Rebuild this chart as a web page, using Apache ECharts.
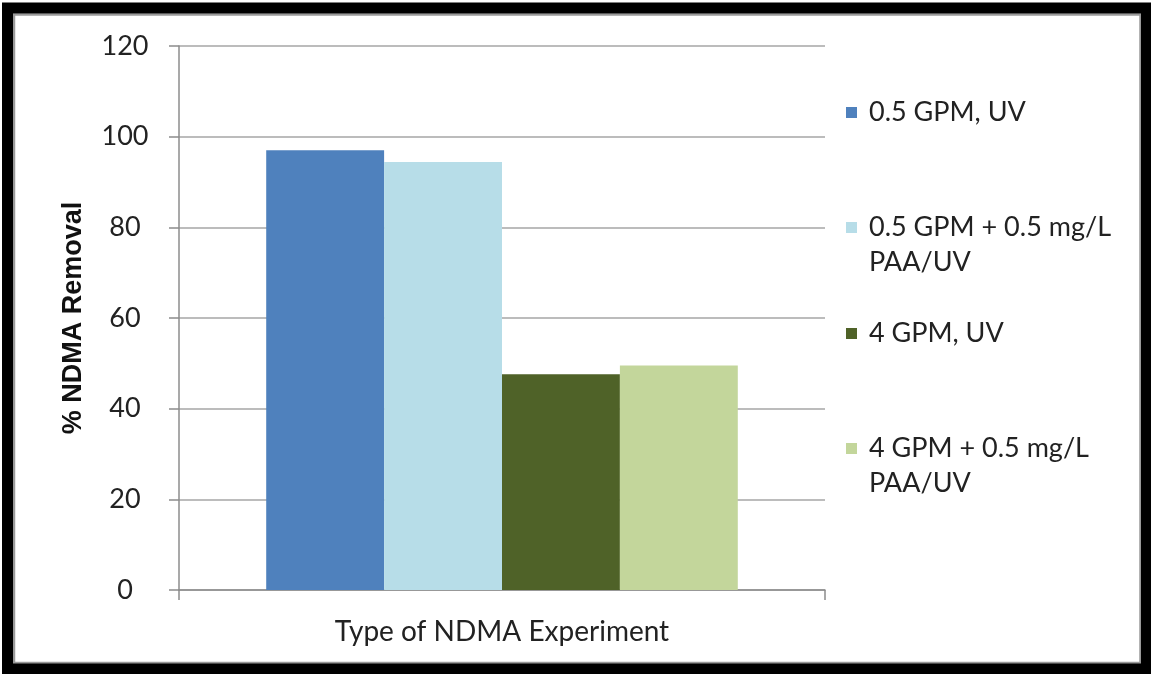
<!DOCTYPE html>
<html>
<head>
<meta charset="utf-8">
<title>% NDMA Removal</title>
<script src="https://cdn.jsdelivr.net/npm/echarts@6/dist/echarts.min.js"></script>
<style>
  html, body { margin: 0; padding: 0; background: #ffffff; }
  #chart { width: 1151px; height: 674px; }
</style>
</head>
<body>
<div id="chart"></div>
<script>
// Category and series data
const categories = ['Type of NDMA Experiment'];
const seriesNames = [
  '0.5 GPM, UV',
  '0.5 GPM + 0.5 mg/L\nPAA/UV',
  '4 GPM, UV',
  '4 GPM + 0.5 mg/L\nPAA/UV'
];
const removal_05gpm_uv = [97];
const removal_05gpm_paa_uv = [94.4];
const removal_4gpm_uv = [47.6];
const removal_4gpm_paa_uv = [49.5];
const yTicks = [0, 20, 40, 60, 80, 100, 120];

const seriesValues = [removal_05gpm_uv, removal_05gpm_paa_uv, removal_4gpm_uv, removal_4gpm_paa_uv];
const colors = ['#4f81bd', '#b7dde8', '#4f6228', '#c3d69b'];
const legendTops = [95, 175, 316, 396];

const labelFont = 'Lato, "Open Sans", sans-serif';
const textColor = '#222222';

const chart = echarts.init(document.getElementById('chart'), null, { renderer: 'canvas' });

chart.setOption({
  animation: false,
  backgroundColor: '#ffffff',
  grid: { left: 179, right: 326, top: 46, bottom: 84, containLabel: false },
  xAxis: {
    type: 'category',
    data: categories,
    boundaryGap: true,
    axisLine: { show: true, lineStyle: { color: '#8c8c8c', width: 1.5 } },
    axisTick: { show: true, length: 10, alignWithLabel: false, lineStyle: { color: '#8c8c8c', width: 1.5 } },
    axisLabel: { margin: 28, fontFamily: labelFont, fontSize: 28, color: textColor },
    splitLine: { show: false }
  },
  yAxis: {
    type: 'value',
    min: yTicks[0],
    max: yTicks[yTicks.length - 1],
    interval: yTicks[1] - yTicks[0],
    name: '% NDMA Removal',
    nameLocation: 'middle',
    nameGap: 92,
    nameTextStyle: { fontFamily: '"Liberation Sans", Arial, sans-serif', fontWeight: 'bold', fontSize: 27, color: '#111111' },
    axisLine: { show: true, lineStyle: { color: '#8c8c8c', width: 1.5 } },
    axisTick: { show: true, length: 10, lineStyle: { color: '#8c8c8c', width: 1.5 } },
    axisLabel: { margin: 54, align: 'center', fontFamily: labelFont, fontSize: 27, color: textColor },
    splitLine: { show: true, lineStyle: { color: '#a6a6a6', width: 1.5 } }
  },
  legend: seriesNames.map((name, i) => ({
    data: [name],
    orient: 'vertical',
    left: 846,
    top: legendTops[i],
    padding: 0,
    icon: 'rect',
    itemWidth: 11,
    itemHeight: 11,
    itemGap: 0,
    selectedMode: false,
    formatter: n => (n.indexOf('\n') >= 0 ? '\n' + n : n),
    textStyle: { fontFamily: labelFont, fontSize: 27, lineHeight: 35, color: textColor, padding: [0, 0, 0, 7] }
  })),
  series: seriesNames.map((name, i) => ({
    name: name,
    type: 'bar',
    data: seriesValues[i],
    barGap: '0%',
    barCategoryGap: '27%',
    itemStyle: { color: colors[i] }
  })),
  graphic: [
    // outer dark frame
    { type: 'rect', silent: true, z: 100,
      shape: { x: 7.5, y: 8, width: 1139, height: 661 },
      style: { fill: 'none', stroke: '#000000', lineWidth: 11 } },
    // soft grey inner edge of the frame
    { type: 'rect', silent: true, z: 99,
      shape: { x: 14, y: 14.5, width: 1126.5, height: 648.5 },
      style: { fill: 'none', stroke: '#9a9a9a', lineWidth: 2.5 } }
  ]
});
</script>
</body>
</html>
